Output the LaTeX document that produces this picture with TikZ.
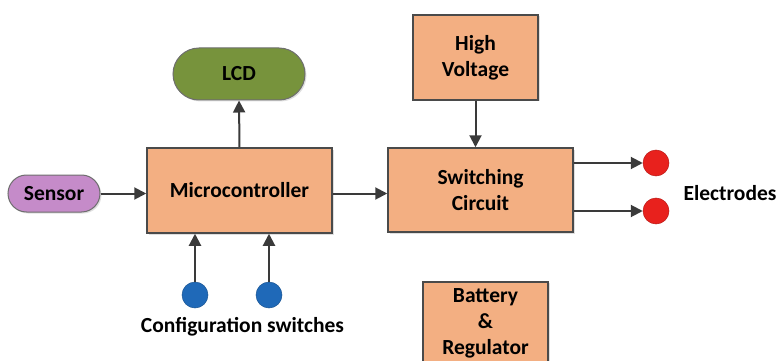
\documentclass[tikz,border=0pt]{standalone}
\usepackage{fontspec}
\setmainfont{Carlito}
\usetikzlibrary{arrows.meta,shapes.misc,shadows}
\definecolor{boxfill}{HTML}{F3AF82}
\definecolor{boxline}{HTML}{4A4A4A}
\definecolor{lcdfill}{HTML}{77933C}
\definecolor{sensfill}{HTML}{C58BC9}
\definecolor{bluedot}{HTML}{1F69B8}
\definecolor{reddot}{HTML}{E8211D}
\definecolor{arr}{HTML}{3A3A3A}
\tikzset{
  txt/.style={font=\fontsize{21.5}{26}\selectfont\bfseries},
  blk/.style={draw=boxline, line width=1.5pt, fill=boxfill, align=center, txt, inner sep=0pt, drop shadow={shadow xshift=1.5pt, shadow yshift=-1.5pt, opacity=0.25}},
  pill/.style={draw=boxline!80, line width=1pt, rounded rectangle, align=center, txt, inner sep=0pt, drop shadow={shadow xshift=1.5pt, shadow yshift=-1.5pt, opacity=0.25}},
  dot/.style={circle, minimum size=26pt, inner sep=0pt, draw=#1!80!black, line width=0.5pt, fill=#1},
  con/.style={draw=arr, line width=2pt, -{Triangle[length=12pt,width=12pt]}},
  lbl/.style={txt, inner sep=0pt}
}
\begin{document}
\begin{tikzpicture}[x=1pt,y=-1pt]
\useasboundingbox (0,0) rectangle (780,361);
\node[blk, minimum width=185pt, minimum height=85pt] (mc) at (239.5,190.5) {Microcontroller};
\node[pill, fill=lcdfill, minimum width=132pt, minimum height=52pt] (lcd) at (239,74) {LCD};
\node[pill, fill=sensfill, minimum width=92pt, minimum height=37pt] (sens) at (54,193.5) {Sensor};
\node[blk, minimum width=185pt, minimum height=84pt] (sw) at (480.5,190) {Switching\\Circuit};
\node[blk, minimum width=125pt, minimum height=85pt] (hv) at (475.5,57.5) {High\\Voltage};
\node[blk, minimum width=125pt, minimum height=110pt, anchor=north] (bat) at (485.5,281) {};
\node[lbl, align=center] (battxt) at (485.5,323) {Battery\\\&\\Regulator};
\node[dot=reddot] (e1) at (656,163) {};
\node[dot=reddot] (e2) at (656,211) {};
\node[dot=bluedot] (c1) at (195,295) {};
\node[dot=bluedot] (c2) at (269,295) {};
\node[lbl] (elab) at (730,193) {Electrodes};
\node[lbl] (clab) at (242.5,327) {Configuration switches};
\coordinate (mid) at (0,193.5);
\draw[con] (sens.east) -- (sens.east -| mc.west);
\draw[con] (mc.north) -- (lcd.south);
\draw[con] (mc.east |- mid) -- (sw.west |- mid);
\draw[con] (hv.south) -- (hv.south |- sw.north);
\draw[con] (sw.east |- e1) -- (e1.west);
\draw[con] (sw.east |- e2) -- (e2.west);
\draw[con] (c1.north) -- (c1 |- mc.south);
\draw[con] (c2.north) -- (c2 |- mc.south);
\end{tikzpicture}
\end{document}
